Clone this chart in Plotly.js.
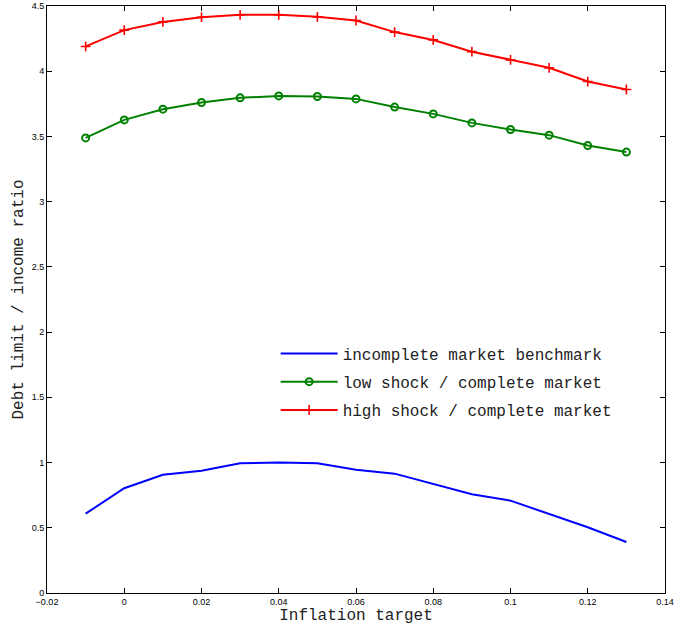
<!DOCTYPE html>
<html><head><meta charset="utf-8">
<script src="https://cdn.plot.ly/plotly-3.0.1.min.js"></script>
<style>html,body{margin:0;padding:0;background:#fff}</style>
</head><body>
<div id="chart" style="width:675px;height:628px"></div>
<script>
const inflation = [-0.01, 0, 0.01, 0.02, 0.03, 0.04, 0.05, 0.06, 0.07, 0.08, 0.09, 0.10, 0.11, 0.12, 0.13];
const incomplete = [0.608, 0.803, 0.907, 0.938, 0.995, 1.0, 0.995, 0.945, 0.915, 0.834, 0.757, 0.708, 0.606, 0.504, 0.391];
const lowShock = [3.489, 3.627, 3.709, 3.760, 3.796, 3.811, 3.806, 3.788, 3.725, 3.673, 3.604, 3.553, 3.510, 3.430, 3.380];
const highShock = [4.19, 4.315, 4.378, 4.414, 4.432, 4.432, 4.417, 4.389, 4.30, 4.24, 4.15, 4.087, 4.026, 3.921, 3.86];
const names = ['incomplete market benchmark', 'low shock / complete market', 'high shock / complete market'];

const mono = 'Liberation Mono, Courier New, monospace';
const traces = [
  {x: inflation, y: incomplete, name: names[0], legendgroup: 'a', mode: 'lines', line: {color: '#0000ff', width: 2}},
  {x: inflation, y: lowShock, name: names[1], legendgroup: 'b', mode: 'lines+markers', line: {color: '#008000', width: 2},
   marker: {symbol: 'circle-open', size: 7, color: '#008000', line: {width: 2, color: '#008000'}}},
  {x: inflation, y: highShock, name: names[2], legendgroup: 'c', mode: 'lines+markers', line: {color: '#ff0000', width: 2},
   marker: {symbol: 'cross-thin-open', size: 7, color: '#ff0000', line: {width: 1.6, color: '#ff0000'}}}
];
const axisCommon = {
  showgrid: false, zeroline: false, showline: true, mirror: 'ticks', linecolor: '#000', linewidth: 1,
  ticks: 'inside', ticklen: 5, tickcolor: '#000', tickwidth: 1,
  tickfont: {family: 'Liberation Sans, Arial, sans-serif', size: 9, color: '#000'}
};
const layout = {
  width: 675, height: 628,
  margin: {l: 47, r: 10, t: 6, b: 35},
  paper_bgcolor: '#fff', plot_bgcolor: '#fff',
  xaxis: Object.assign({}, axisCommon, {range: [-0.02, 0.14], dtick: 0.02, tick0: 0,
    title: {text: 'Inflation target', font: {family: mono, size: 16, color: '#222'}, standoff: 2}}),
  yaxis: Object.assign({}, axisCommon, {range: [0, 4.5], dtick: 0.5, tick0: 0,
    title: {text: 'Debt limit / income ratio', font: {family: mono, size: 16, color: '#222'}, standoff: 4}}),
  legend: {x: 0.37, y: 0.437, xanchor: 'left', yanchor: 'top', bgcolor: 'rgba(0,0,0,0)',
    font: {family: mono, size: 16, color: '#222'}, tracegroupgap: 4.5, itemwidth: 57},
  showlegend: true
};
Plotly.newPlot('chart', traces, layout, {staticPlot: true});
</script>
</body></html>
